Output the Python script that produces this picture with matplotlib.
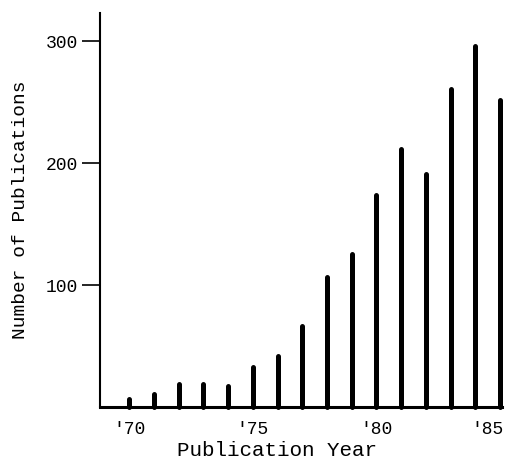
import numpy as np
import matplotlib.pyplot as plt
from matplotlib.transforms import ScaledTranslation

# Dados
anos = np.arange(1970, 1986)
publicacoes = [7, 11, 19, 19, 18, 33, 42, 67, 107, 126, 174, 212, 191, 261, 296, 252]
rotulos_x = ["'70", "'75", "'80", "'85"]
posicoes_x = [1970, 1975, 1980, 1985]
ticks_y = [100, 200, 300]

plt.rcParams['font.family'] = ['Liberation Mono', 'DejaVu Sans Mono']

fig = plt.figure(figsize=(5.12, 4.63), dpi=100)
ax = fig.add_axes([0.1953, 0.1199, 0.785, 0.852])

ax.vlines(anos, 0, publicacoes, colors='black', linewidth=3.6,
          capstyle='round', clip_on=False)

ax.set_xlim(1968.81, 1985.08)
ax.set_ylim(0, 323)

ax.spines['top'].set_visible(False)
ax.spines['right'].set_visible(False)
ax.spines['left'].set_linewidth(1.5)
ax.spines['bottom'].set_linewidth(2.2)

ax.set_xticks(posicoes_x)
ax.set_xticklabels(rotulos_x, fontsize=13)
ax.tick_params(axis='x', length=0, pad=10)

# o rótulo '85 fica um pouco à esquerda da última haste
ultimo = ax.get_xticklabels()[-1]
ultimo.set_transform(ultimo.get_transform() + ScaledTranslation(-9 / 72, 0, fig.dpi_scale_trans))

ax.set_yticks(ticks_y)
ax.set_yticklabels([str(v) for v in ticks_y], fontsize=13)
ax.tick_params(axis='y', direction='out', length=13, width=1.2, pad=3)

ax.set_xlabel("Publication Year", fontsize=15)
ax.xaxis.set_label_coords(0.44, -0.085)
ax.set_ylabel("Number of Publications", fontsize=14, labelpad=12)

fig.savefig("out.png", dpi=100)
